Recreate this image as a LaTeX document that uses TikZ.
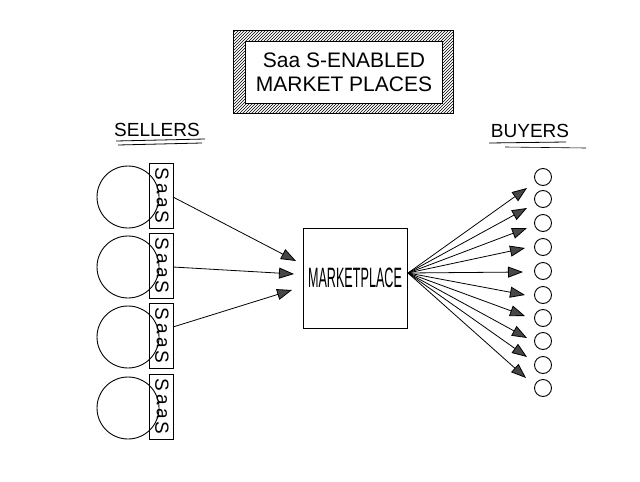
\documentclass[tikz,border=0pt]{standalone}
\usepackage{fontspec}
\setmainfont{Liberation Sans}
\usetikzlibrary{arrows.meta,patterns}
\tikzset{
  sketch/.style={draw=black,line width=0.9pt},
  seller/.style={sketch,circle,minimum size=62pt,inner sep=0pt},
  saasbox/.style={sketch,rectangle,minimum width=24pt,minimum height=65pt,inner sep=0pt},
  saasletter/.style={rotate=-90,inner sep=0pt,font=\fontsize{19}{19}\selectfont},
  buyer/.style={sketch,circle,minimum size=17pt,inner sep=0pt},
  flow/.style={draw=black,line width=0.8pt,-{Triangle[length=15pt,width=11pt,fill=black!72]}},
  label/.style={font=\fontsize{19}{21}\selectfont},
}
\begin{document}
\begin{tikzpicture}[x=1pt,y=-1pt]
\useasboundingbox (0,0) rectangle (640,482);
\fill[white] (0,0) rectangle (640,482);
% title frame
\fill[pattern=north east lines,even odd rule] (233,30) rectangle (453,113) (245,41) rectangle (442,103);
\draw[sketch] (233,30) rectangle (453,113);
\draw[sketch] (245,41) rectangle (442,103);
\node[font=\fontsize{21}{24}\selectfont,align=center] (title) at (344,72) {Saa S-ENABLED\\MARKET PLACES};
% labels
\node[label] (sellers) at (157,130) {SELLERS};
\draw[line width=0.8pt] (116,141) -- (205,139);
\draw[line width=0.8pt] (118,145) -- (202,143);
\node[label] (buyers) at (530,131) {BUYERS};
\draw[line width=0.8pt] (489,143) -- (566,142);
\draw[line width=0.6pt] (505,147) -- (586,148);
% sellers
\foreach \i/\y in {1/197,2/267,3/337,4/408}{
  \node[seller] (s\i) at (128,\y) {};
  \node[saasbox] (b\i) at (161,\y-1) {};
  \node[saasletter] (la\i) at (162,\y-23) {S};
  \node[saasletter] (lb\i) at (162,\y-8) {a};
  \node[saasletter] (lc\i) at (162,\y+6) {a};
  \node[saasletter] (ld\i) at (162,\y+20) {S};
}
% marketplace
\node[sketch,rectangle,minimum width=104pt,minimum height=100pt] (mp) at (355,278) {};
\node[font=\fontsize{28}{28}\selectfont,xscale=0.45] (mpt) at (mp) {MARKETPLACE};
% seller arrows
\coordinate (a1) at (173,197);
\coordinate (a2) at (173,267);
\coordinate (a3) at (173,327);
\coordinate (e1) at (296,261);
\coordinate (e2) at (294,274);
\coordinate (e3) at (292,290);
\foreach \i in {1,2,3}{\draw[flow] (a\i) -- (e\i);}
% buyers
\foreach \i/\y in {1/177,2/199,3/223,4/247,5/271,6/295,7/318,8/341,9/365,10/388}{
  \node[buyer] (c\i) at (543,\y) {};
}
\coordinate (hub) at (408,273);
\foreach \i/\x/\y in {1/527/188,2/527/208,3/527/228,4/525/248,5/523/272,6/525/295,7/525/316,8/527/338,9/527/357,10/526/378}{
  \coordinate (f\i) at (\x,\y);
  \draw[flow] (hub) -- (f\i);
}
\end{tikzpicture}
\end{document}
